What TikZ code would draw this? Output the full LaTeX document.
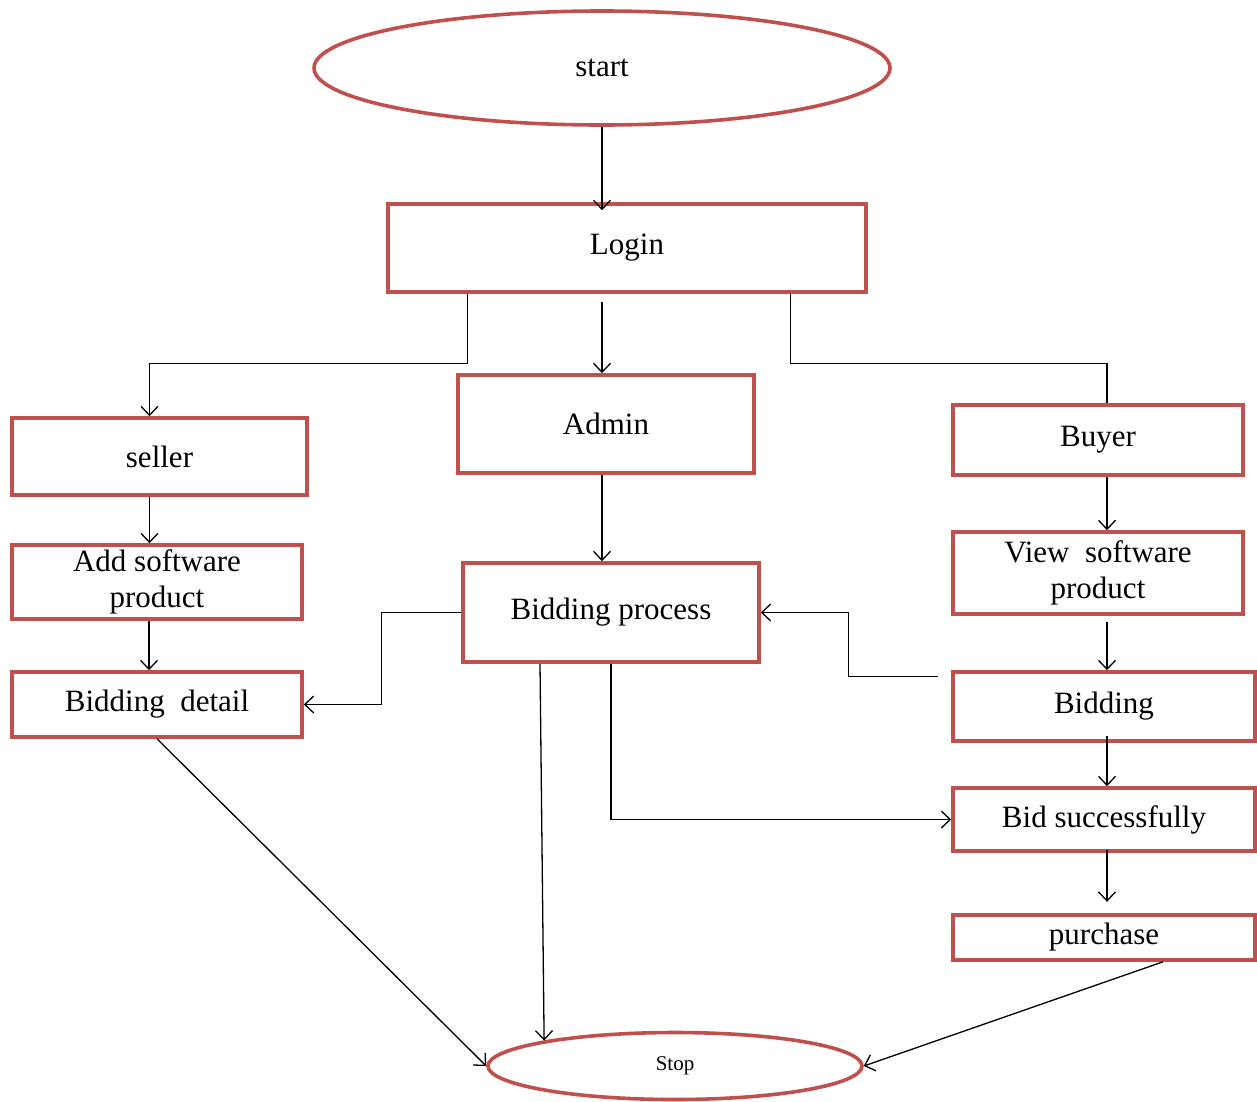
\documentclass[tikz,border=0pt]{standalone}
\usepackage{fontspec}
\setmainfont{Liberation Serif}
\usetikzlibrary{arrows.meta,shapes.geometric}
\definecolor{boxred}{RGB}{192,80,77}

\begin{document}
\begin{tikzpicture}[x=1pt,y=-1pt,
  stepbox/.style={draw=boxred, line width=3.6pt, rectangle, inner sep=0pt, align=center,
    font=\fontsize{31}{36}\selectfont},
  ovalbox/.style={draw=boxred, line width=3.6pt, ellipse, inner sep=0pt},
  arr/.style={line width=1.3pt, -{Straight Barb[length=9pt,width=17pt]}},
  link/.style={line width=1.3pt}]
\useasboundingbox (0,0) rectangle (1257,1101);
\node[ovalbox, minimum width=576, minimum height=114, font=\fontsize{31}{36}\selectfont] (start) at (602,68) {start};
\node[stepbox, minimum width=478, minimum height=88] (login) at (627,248) {Login};
\node[stepbox, minimum width=295, minimum height=77] (seller) at (159.5,456.5) {seller};
\node[stepbox, minimum width=296, minimum height=98] (admin) at (606,424) {Admin};
\node[stepbox, minimum width=290, minimum height=70] (buyer) at (1098,440) {Buyer};
\node[stepbox, minimum width=290, minimum height=74] (addsw) at (157,582) {Add software\\product};
\node[stepbox, minimum width=296, minimum height=99] (bidproc) at (611,612.5) {Bidding process};
\node[stepbox, minimum width=290, minimum height=82] (viewsw) at (1098,573) {View\enspace software\\product};
\node[stepbox, minimum width=290, minimum height=65] (biddetail) at (157,704.5) {Bidding\enspace detail};
\node[stepbox, minimum width=302, minimum height=69] (bidding) at (1104,706.5) {Bidding};
\node[stepbox, minimum width=302, minimum height=63] (bidsucc) at (1104,819.5) {Bid successfully};
\node[stepbox, minimum width=302, minimum height=45] (purchase) at (1104,937.5) {purchase};
\node[ovalbox, minimum width=374, minimum height=67, font=\fontsize{21}{24}\selectfont] (stop) at (675,1066) {Stop};

\draw[arr] (start.south) -- ([yshift=-8]start.south |- login.north);
\draw[arr] ([xshift=81]login.south west) -- ++(0,70) -| ([xshift=-10]seller.north);
\draw[arr] ([yshift=-8]start.south |- login.south) -- (start.south |- admin.north);
\draw[link] ([xshift=-77]login.south east) -- ++(0,70) -| ([xshift=9]buyer.north);
\draw[arr] ([xshift=-10]seller.south) -- ([xshift=-10]seller.south |- addsw.north);
\draw[arr] ([xshift=-8]addsw.south) -- ([xshift=-8]addsw.south |- biddetail.north);
\draw[arr] (start.south |- admin.south) -- (start.south |- bidproc.north);
\draw[arr] (bidproc.west) -- ++(-80,0) |- (biddetail.east);
\draw[arr] ([xshift=-13,yshift=30]bidding.west) -- ++(-90,0) |- (bidproc.east);
\draw[arr] (bidproc.south) |- (bidsucc.west);
\draw[arr] ([xshift=-71]bidproc.south) -- (stop.169);
\draw[arr] (biddetail.south) -- (stop.west);
\draw[arr] ([xshift=59]purchase.south) -- (stop.east);
\draw[arr] ([xshift=9]buyer.south) -- ([xshift=9]buyer.south |- viewsw.north);
\draw[arr] ([xshift=9,yshift=-6]viewsw.south) -- ([xshift=9]viewsw.south |- bidding.north);
\draw[arr] ([xshift=3,yshift=7]bidding.south) -- ([xshift=3]bidding.south |- bidsucc.north);
\draw[arr] ([xshift=3,yshift=3]bidsucc.south) -- ++(0,52);
\end{tikzpicture}
\end{document}
